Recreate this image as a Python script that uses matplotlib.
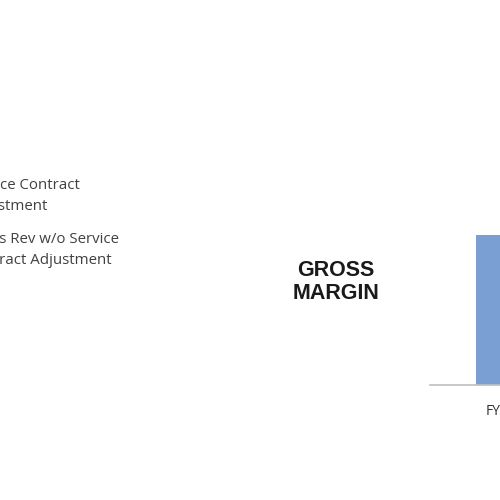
import matplotlib
matplotlib.use("Agg")
import matplotlib.pyplot as plt

# data
categories = ["FY2010", "FY2011"]
values = [62, 48]
legend_labels = ["Service Contract\nAdjustment", "Gross Rev w/o Service\nContract Adjustment"]
title = "GROSS\nMARGIN"

fig = plt.figure(figsize=(5, 5), dpi=100)
fig.patch.set_facecolor("white")

# legend text, cut by the left edge like the slide crop
fig.text(-0.068, 1 - 196 / 500, legend_labels[0], ha="left", va="center",
         fontsize=10.8, color="#404040", family="Open Sans", linespacing=1.6)
fig.text(-0.069, 1 - 250 / 500, legend_labels[1], ha="left", va="center",
         fontsize=10.8, color="#404040", family="Open Sans", linespacing=1.6)

fig.text(0.672, 1 - 282 / 500, title, ha="center", va="center",
         fontsize=15.5, fontweight="bold", family="Liberation Sans",
         color="#1a1a1a", linespacing=1.1)

# chart axes run past the right edge
ax = fig.add_axes([430 / 500, 1 - 385 / 500, 0.554, 0.3])
ax.bar(range(len(categories)), values, width=0.5, color="#7a9fd2")
ax.set_xlim(-0.6, 1.5)
ax.set_ylim(0, values[0])
ax.set_xticks(range(len(categories)))
ax.set_xticklabels(categories, fontsize=10, color="#303030", family="Open Sans")
ax.tick_params(axis="x", length=0, pad=14)
ax.set_yticks([])
for s in ["top", "right", "left"]:
    ax.spines[s].set_visible(False)
ax.spines["bottom"].set_color("#bfbfbf")
ax.spines["bottom"].set_linewidth(1.2)

fig.savefig("out.png", dpi=100)
